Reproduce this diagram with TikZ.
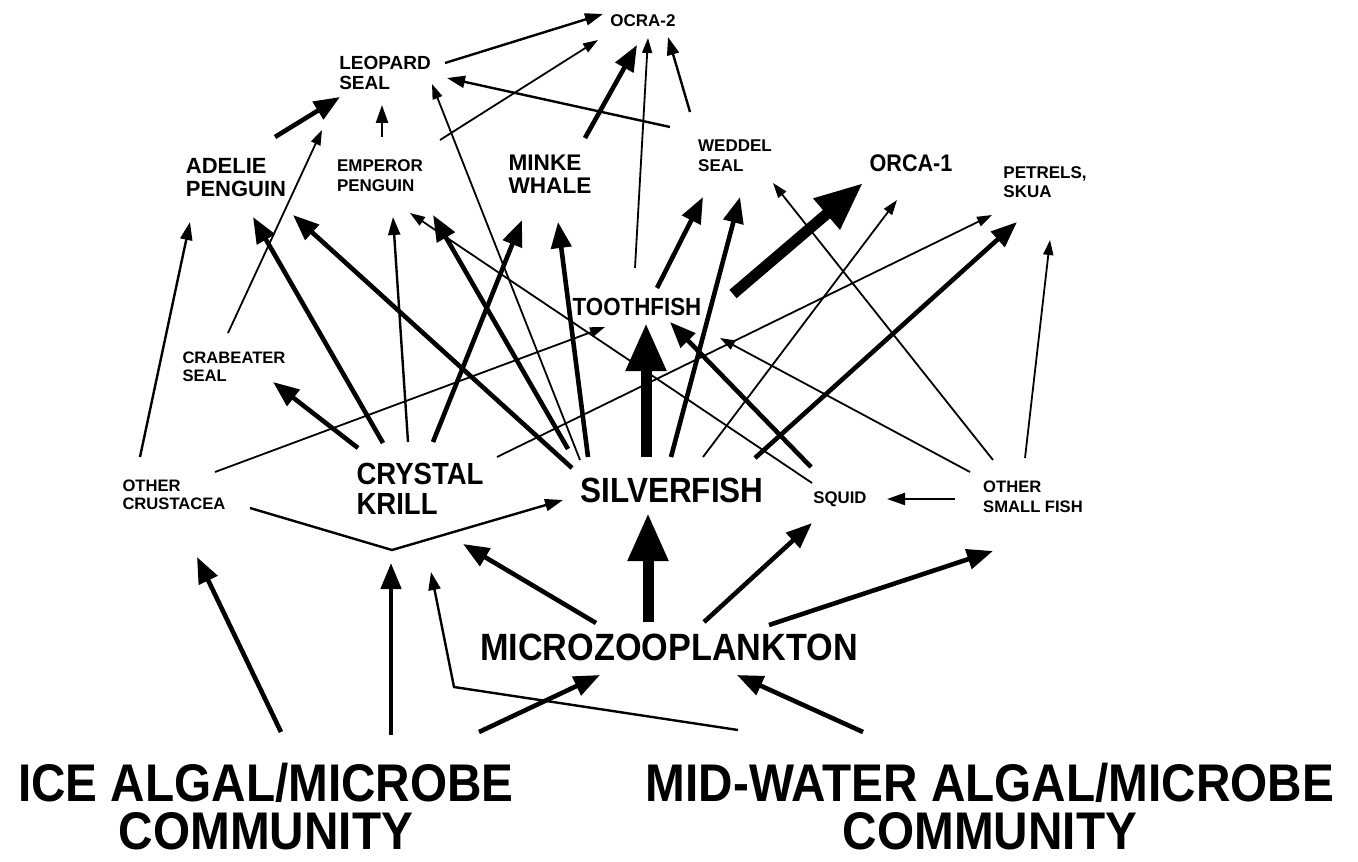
\documentclass[tikz,border=0pt]{standalone}
\usepackage{fontspec}
\setmainfont{Liberation Sans}
\newfontfamily\narrowsans{Liberation Sans}[FakeStretch=0.9]
\usetikzlibrary{arrows.meta,calc}

\begin{document}
\begin{tikzpicture}[x = 0.5pt, y = -0.5pt,
  lbl/.style 2 args = {font = \fontsize{#1}{#2}\selectfont\bfseries, align = left, inner sep = 0pt},
  big/.style 2 args = {font = \narrowsans\fontsize{#1}{#2}\selectfont\bfseries, align = center, inner sep = 0pt},
  fd1/.style = {-{Triangle[length = 7.5pt, width = 5pt]}, line width = 0.9pt},
  fd2/.style = {-{Triangle[length = 9pt, width = 6pt]}, line width = 1.2pt},
  fd3/.style = {-{Triangle[length = 13pt, width = 10pt]}, line width = 2.3pt},
  fd4/.style = {-{Triangle[length = 24pt, width = 19pt]}, line width = 5.5pt}]
  \useasboundingbox (0,0) rectangle (1358,861);
  \node[lbl = {8.5}{10}] (ocra) at (643,21) {OCRA-2};
  \node[lbl = {9.5}{10}] (leo) at (385,73) {LEOPARD\\SEAL};
  \node[lbl = {11}{11.5}] (adel) at (236,178) {ADELIE\\PENGUIN};
  \node[lbl = {8.5}{10}] (emp) at (380,176) {EMPEROR\\PENGUIN};
  \node[lbl = {11.3}{11.5}] (mink) at (550,174) {MINKE\\WHALE};
  \node[lbl = {8.5}{10}] (wed) at (735,156) {WEDDEL\\SEAL};
  \node[big = {12}{12}] (orca) at (911,163) {ORCA-1};
  \node[lbl = {8.5}{9.5}] (pet) at (1045,182) {PETRELS,\\SKUA};
  \node[big = {12.4}{12}] (tooth) at (637,307) {TOOTHFISH};
  \node[lbl = {8.3}{9.2}] (crab) at (234,367) {CRABEATER\\SEAL};
  \node[lbl = {8.3}{9}] (ocru) at (174,495) {OTHER\\CRUSTACEA};
  \node[big = {15.3}{14.8}, align = left] (krill) at (420,489) {CRYSTAL\\KRILL};
  \node[big = {17.5}{17}] (silver) at (672,490) {SILVERFISH};
  \node[lbl = {8.4}{9}] (squid) at (840,499) {SQUID};
  \node[lbl = {8.3}{9.8}] (osf) at (1033,497) {OTHER\\SMALL FISH};
  \node[big = {19}{19}] (mzoo) at (669,647) {MICROZOOPLANKTON};
  \node[big = {26.5}{24}] (ice) at (266,807) {ICE ALGAL/MICROBE\\COMMUNITY};
  \node[big = {26.5}{24}] (mid) at (990,807) {MID-WATER ALGAL/MICROBE\\COMMUNITY};
  \draw[fd2] ($(leo)+(60,-10)$) -- ($(ocra)+(-40,-7)$);
  \draw[fd1] ($(emp)+(60,-36)$) -- ($(ocra)+(-45,19)$);
  \draw[fd3] ($(mink)+(35,-36)$) -- ($(ocra)+(-6,24)$);
  \draw[fd1] ($(tooth)+(-2,-39)$) -- ($(ocra)+(5,17)$);
  \draw[fd2] ($(wed)+(-45,-44)$) -- ($(ocra)+(25,16)$);
  \draw[fd2] ($(wed)+(-65,-29)$) -- ($(leo)+(62,5)$);
  \draw[fd2] ($(emp)+(2,-39)$) -- ($(leo)+(-3,32)$);
  \draw[fd3] ($(adel)+(39,-41)$) -- ($(leo)+(-45,24)$);
  \draw[fd1] ($(crab)+(-6,-34)$) -- ($(leo)+(-63,57)$);
  \draw[fd1] ($(silver)+(-92,-30)$) -- ($(leo)+(47,11)$);
  \draw[fd2] ($(ocru)+(-34,-38)$) -- ($(adel)+(-46,44)$);
  \draw[fd3] ($(krill)+(-37,-46)$) -- ($(adel)+(17,39)$);
  \draw[fd3] ($(silver)+(-100,-22)$) -- ($(adel)+(57,37)$);
  \draw[fd2] ($(krill)+(-12,-47)$) -- ($(emp)+(13,41)$);
  \draw[fd3] ($(silver)+(-104,-41)$) -- ($(emp)+(53,39)$);
  \draw[fd1] ($(squid)+(-28,-16)$) -- ($(emp)+(30,37)$);
  \draw[fd3] ($(krill)+(13,-47)$) -- ($(mink)+(-28,46)$);
  \draw[fd3] ($(silver)+(-84,-33)$) -- ($(mink)+(8,48)$);
  \draw[fd3] ($(krill)+(-62,-41)$) -- ($(crab)+(39,15)$);
  \draw[fd1] ($(ocru)+(41,-23)$) -- ($(tooth)+(-32,20)$);
  \draw[fd1] ($(krill)+(77,-32)$) -- ($(pet)+(-53,33)$);
  \draw[fd4] ($(silver)+(-26,-33)$) -- ($(tooth)+(9,16)$);
  \draw[fd3] ($(squid)+(-29,-32)$) -- ($(tooth)+(33,15)$);
  \draw[fd1] ($(osf)+(-63,-25)$) -- ($(tooth)+(83,31)$);
  \draw[fd3] ($(tooth)+(20,-19)$) -- ($(wed)+(-32,41)$);
  \draw[fd3] ($(silver)+(-1,-33)$) -- ($(wed)+(5,41)$);
  \draw[fd1] ($(osf)+(-40,-37)$) -- ($(wed)+(38,27)$);
  \draw[fd4] ($(tooth)+(96,-13)$) -- ($(orca)+(-48,20)$);
  \draw[fd1] ($(silver)+(31,-33)$) -- ($(orca)+(-14,37)$);
  \draw[fd3] ($(silver)+(83,-32)$) -- ($(pet)+(-28,40)$);
  \draw[fd1] ($(osf)+(-8,-39)$) -- ($(pet)+(5,58)$);
  \draw[fd2] ($(osf)+(-78,2)$) -- ($(squid)+(47,0)$);
  \draw[fd2] ($(ocru)+(76,13)$) -- ($(krill)+(-28,61)$) -- ($(silver)+(-109,10)$);
  \draw[fd3] ($(ice)+(15,-75)$) -- ($(ocru)+(23,62)$);
  \draw[fd3] ($(ice)+(125,-72)$) -- ($(krill)+(-29,74)$);
  \draw[fd2] ($(mid)+(-252,-77)$) -- ($(mzoo)+(-215,40)$) -- ($(krill)+(11,83)$);
  \draw[fd3] ($(ice)+(213,-75)$) -- ($(mzoo)+(-69,28)$);
  \draw[fd3] ($(mid)+(-127,-75)$) -- ($(mzoo)+(68,28)$);
  \draw[fd3] ($(mzoo)+(-73,-24)$) -- ($(krill)+(43,55)$);
  \draw[fd4] ($(mzoo)+(-21,-25)$) -- ($(silver)+(-24,23)$);
  \draw[fd3] ($(mzoo)+(35,-25)$) -- ($(squid)+(-28,24)$);
  \draw[fd3] ($(mzoo)+(100,-22)$) -- ($(osf)+(-40,54)$);
\end{tikzpicture}
\end{document}
